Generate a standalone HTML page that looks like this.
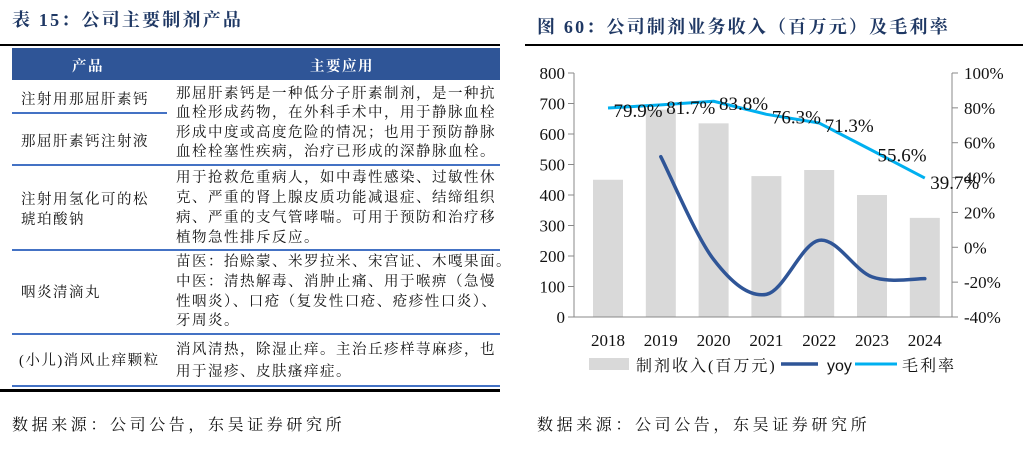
<!DOCTYPE html>
<html><head><meta charset="utf-8">
<style>
body{margin:0;width:1028px;height:450px;background:#fff;position:relative;overflow:hidden;font-family:"Liberation Serif","Noto Serif CJK SC","Noto Sans CJK SC",serif;color:#111}
.a{position:absolute;white-space:nowrap}
.title{font-weight:bold;font-size:18px;color:#1f3864;letter-spacing:2.2px}
.t{font-size:14.5px;letter-spacing:1.5px}
.hl{position:absolute;height:2px;background:#4472c4}
.src{font-size:16px;letter-spacing:3.6px}
</style></head><body>
<div class="a title" style="left:12px;top:6px">表 15：公司主要制剂产品</div>
<div class="a" style="left:0;top:44px;width:500px;height:2px;background:#000"></div>
<div class="a" style="left:12px;top:48px;width:488px;height:32px;background:#2f5597">
 <div class="a t" style="left:60px;top:7px;color:#fff;font-weight:bold">产品</div>
 <div class="a t" style="left:298px;top:7px;color:#fff;font-weight:bold">主要应用</div>
</div>
<div class="hl" style="left:12px;top:112px;width:155px"></div>
<div class="hl" style="left:12px;top:164px;width:488px"></div>
<div class="hl" style="left:12px;top:249px;width:488px"></div>
<div class="hl" style="left:12px;top:333px;width:488px"></div>
<div class="hl" style="left:12px;top:385px;width:488px"></div>
<div class="a" style="left:0;top:389px;width:500px;height:3px;background:#000"></div>

<div class="a t" style="left:21px;top:88px">注射用那屈肝素钙</div>
<div class="a t" style="left:21px;top:130px">那屈肝素钙注射液</div>
<div class="a t" style="left:21px;top:190px;line-height:20px">注射用氢化可的松<br>琥珀酸钠</div>
<div class="a t" style="left:21px;top:281px">咽炎清滴丸</div>
<div class="a t" style="left:19px;top:349px">(小儿)消风止痒颗粒</div>

<div class="a t" style="left:176px;top:85px;line-height:19.3px">那屈肝素钙是一种低分子肝素制剂，是一种抗<br>血栓形成药物，在外科手术中，用于静脉血栓<br>形成中度或高度危险的情况；也用于预防静脉<br>血栓栓塞性疾病，治疗已形成的深静脉血栓。</div>
<div class="a t" style="left:176px;top:168px;line-height:20px">用于抢救危重病人，如中毒性感染、过敏性休<br>克、严重的肾上腺皮质功能减退症、结缔组织<br>病、严重的支气管哮喘。可用于预防和治疗移<br>植物急性排斥反应。</div>
<div class="a t" style="left:176px;top:253px;line-height:19.8px">苗医：抬赊蒙、米罗拉米、宋宫证、木嘎果面。<br>中医：清热解毒、消肿止痛、用于喉痹（急慢<br>性咽炎）、口疮（复发性口疮、疮疹性口炎）、<br>牙周炎。</div>
<div class="a t" style="left:176px;top:339px;line-height:22px">消风清热，除湿止痒。主治丘疹样荨麻疹，也<br>用于湿疹、皮肤瘙痒症。</div>
<div class="a src" style="left:12px;top:412px">数据来源：公司公告，东吴证券研究所</div>

<div class="a title" style="left:537px;top:13px">图 60：公司制剂业务收入（百万元）及毛利率</div>
<div class="a" style="left:525px;top:44px;width:498px;height:2px;background:#000"></div>
<svg id="chart" class="a" style="left:0;top:0" width="1028" height="450"></svg>
<div class="a src" style="left:537px;top:412px">数据来源：公司公告，东吴证券研究所</div>

<script>
const years=['2018','2019','2020','2021','2022','2023','2024'];
const revenue=[450,680,635,462,482,400,325];
const margin=[79.9,81.7,83.8,76.3,71.3,55.6,39.7];
const yoy=[null,52,-7,-27,4,-17,-18];
const leftTicks=[0,100,200,300,400,500,600,700,800];
const rightTicks=[-40,-20,0,20,40,60,80,100];
const NS='http://www.w3.org/2000/svg';
const svg=document.getElementById('chart');
const X0=574,X1=952,Y0=317,Y1=73;
const step=52.8,first=608;
const xs=i=>first+i*step;
const yl=v=>Y0-(v/800)*(Y0-Y1);
const yr=v=>Y0-((v+40)/140)*(Y0-Y1);
function mk(t,a){const e=document.createElementNS(NS,t);for(const k in a)e.setAttribute(k,a[k]);svg.appendChild(e);return e;}
function txt(x,y,s,anchor,size,fam){const e=mk('text',{x:x,y:y,'text-anchor':anchor||'middle','font-size':size||15,'font-family':fam||'"Liberation Serif","Noto Serif CJK SC",serif',fill:'#111'});e.textContent=s;return e;}
revenue.forEach((v,i)=>{const r=mk('rect',{x:xs(i)-15,y:yl(v),width:30,height:Y0-yl(v),fill:'#d9d9d9'});

});
let ax=mk('line',{x1:X0,y1:Y1,x2:X0,y2:Y0,stroke:'#888','stroke-width':1});

ax=mk('line',{x1:X0-6,y1:Y0,x2:X1,y2:Y0,stroke:'#888','stroke-width':1});

ax=mk('line',{x1:X1,y1:Y1,x2:X1,y2:Y0,stroke:'#888','stroke-width':1});

leftTicks.forEach(v=>{mk('line',{x1:X0-6,x2:X0,y1:yl(v),y2:yl(v),stroke:'#888'});
const t=txt(X0-9,yl(v)+6,String(v),'end',17);
});
rightTicks.forEach(v=>{mk('line',{x1:X1,x2:X1+6,y1:yr(v),y2:yr(v),stroke:'#888'});
const t=txt(X1+12,yr(v)+6,v+'%','start',17);
});
years.forEach((y,i)=>{const t=txt(xs(i),346,y,'middle',17);
});
function smooth(pts){let d='M'+pts[0][0]+','+pts[0][1];
for(let i=0;i<pts.length-1;i++){const p0=pts[i-1]||pts[i],p1=pts[i],p2=pts[i+1],p3=pts[i+2]||p2;
const c1=[p1[0]+(p2[0]-p0[0])/6,p1[1]+(p2[1]-p0[1])/6],c2=[p2[0]-(p3[0]-p1[0])/6,p2[1]-(p3[1]-p1[1])/6];
d+=' C'+c1+' '+c2+' '+p2;}return d;}
const yp=[];yoy.forEach((v,i)=>{if(v!==null)yp.push([xs(i),yr(v)]);});
const yl1=mk('path',{d:smooth(yp),fill:'none',stroke:'#2f5597','stroke-width':3.5,'stroke-linecap':'round'});

const mp=margin.map((v,i)=>[xs(i),yr(v)]);
let dm='M'+mp.map(p=>p.join(',')).join(' L');
const ml=mk('path',{d:dm,fill:'none',stroke:'#00b0f0','stroke-width':3,'stroke-linejoin':'round'});

margin.forEach((v,i)=>{const t=txt(xs(i)+30,yr(v)+(i<5?9:11),v.toFixed(1)+'%','middle',19);
});
let l=mk('rect',{x:589,y:358,width:40,height:12,fill:'#d9d9d9'});

l=txt(636,371,'制剂收入(百万元)','start',16,'"Liberation Serif","Noto Serif CJK SC",serif');

l.setAttribute('letter-spacing','2');
l=mk('line',{x1:781,x2:818,y1:364,y2:364,stroke:'#2f5597','stroke-width':3.5});

l=txt(827,371,'yoy','start',16,'"Liberation Sans",sans-serif');

l=mk('line',{x1:855,x2:897,y1:364,y2:364,stroke:'#00b0f0','stroke-width':3});

l=txt(902,371,'毛利率','start',16,'"Liberation Serif","Noto Serif CJK SC",serif');

l.setAttribute('letter-spacing','2');
</script>
</body></html>
